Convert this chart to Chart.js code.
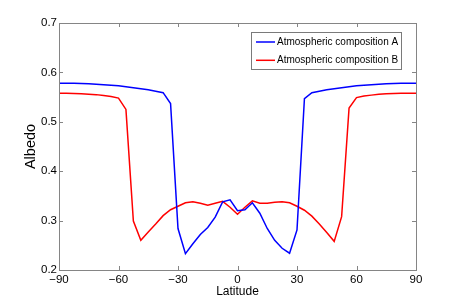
<!DOCTYPE html>
<html lang="en">
  <head>
    <meta charset="UTF-8" />
    <title>Albedo vs Latitude</title>
    <style>
      body {
        margin: 0;
        padding: 0;
        background: #ffffff;
      }
      #albedoChart {
        display: block;
      }
    </style>
    <script src="https://cdn.jsdelivr.net/npm/chart.js"></script>
  </head>
  <body>
    <canvas id="albedoChart" width="460" height="304"></canvas>
    <script>
      // latitude grid (3.75 deg steps)
      const latitude = [
        -90, -86.25, -82.5, -78.75, -75, -71.25, -67.5, -63.75, -60, -56.25,
        -52.5, -48.75, -45, -41.25, -37.5, -33.75, -30, -26.25, -22.5, -18.75,
        -15, -11.25, -7.5, -3.75, 0, 3.75, 7.5, 11.25, 15, 18.75, 22.5, 26.25,
        30, 33.75, 37.5, 41.25, 45, 48.75, 52.5, 56.25, 60, 63.75, 67.5, 71.25,
        75, 78.75, 82.5, 86.25, 90,
      ];
      const albedoA = [
        0.578, 0.578, 0.578, 0.5775, 0.577, 0.576, 0.575, 0.574, 0.573, 0.571,
        0.569, 0.567, 0.565, 0.562, 0.559, 0.537, 0.284, 0.233, 0.253, 0.272,
        0.286, 0.307, 0.338, 0.342, 0.32, 0.322, 0.336, 0.315, 0.284, 0.26,
        0.244, 0.234, 0.281, 0.547, 0.559, 0.562, 0.565, 0.567, 0.569, 0.571,
        0.573, 0.574, 0.575, 0.576, 0.577, 0.5775, 0.578, 0.578, 0.578,
      ];
      const albedoB = [
        0.558, 0.558, 0.5575, 0.557, 0.556, 0.555, 0.553, 0.551, 0.548, 0.525,
        0.299, 0.26, 0.277, 0.293, 0.31, 0.322, 0.329, 0.336, 0.338, 0.335,
        0.331, 0.335, 0.339, 0.327, 0.313, 0.327, 0.34, 0.335, 0.335, 0.337,
        0.338, 0.336, 0.329, 0.321, 0.309, 0.293, 0.276, 0.258, 0.308, 0.528,
        0.549, 0.552, 0.554, 0.556, 0.557, 0.5575, 0.558, 0.558, 0.558,
      ];
      const xTicks = [-90, -60, -30, 0, 30, 60, 90];
      const yTicks = [0.2, 0.3, 0.4, 0.5, 0.6, 0.7];
      const seriesNames = ["Atmospheric composition A", "Atmospheric composition B"];

      const FONT = "'Liberation Sans', Arial, Helvetica, sans-serif";
      const AXIS_COLOR = "#858585";

      // box + inward tick marks on all four sides, MATLAB style
      const boxPlugin = {
        id: "box",
        afterDraw(chart) {
          const { ctx, chartArea: a, scales } = chart;
          ctx.save();
          ctx.strokeStyle = AXIS_COLOR;
          ctx.lineWidth = 1;
          ctx.strokeRect(a.left + 0.5, a.top + 0.5, a.right - a.left, a.bottom - a.top);
          ctx.beginPath();
          const len = 4;
          scales.x.ticks.forEach((t) => {
            const px = Math.round(scales.x.getPixelForValue(t.value)) + 0.5;
            ctx.moveTo(px, a.bottom);
            ctx.lineTo(px, a.bottom - len);
            ctx.moveTo(px, a.top);
            ctx.lineTo(px, a.top + len);
          });
          scales.y.ticks.forEach((t) => {
            const py = Math.round(scales.y.getPixelForValue(t.value)) + 0.5;
            ctx.moveTo(a.left, py);
            ctx.lineTo(a.left + len, py);
            ctx.moveTo(a.right, py);
            ctx.lineTo(a.right - len, py);
          });
          ctx.stroke();

          // legend box inside the plot
          const lx = 251, ly = 32, lw = 150, lh = 37;
          ctx.fillStyle = "#ffffff";
          ctx.fillRect(lx, ly, lw, lh);
          ctx.strokeStyle = "#7a7a7a";
          ctx.strokeRect(lx + 0.5, ly + 0.5, lw, lh);
          ctx.font = "10px " + FONT;
          ctx.textBaseline = "middle";
          chart.data.datasets.forEach((ds, i) => {
            const y = ly + 10 + i * 18.3;
            ctx.strokeStyle = ds.borderColor;
            ctx.lineWidth = 1.5;
            ctx.beginPath();
            ctx.moveTo(256, y);
            ctx.lineTo(275, y);
            ctx.stroke();
            ctx.fillStyle = "#000000";
            ctx.fillText(ds.label, 277, y);
          });
          ctx.restore();
        },
      };

      const ctx = document.getElementById("albedoChart").getContext("2d");
      const config = {
        type: "line",
        data: {
          datasets: [
            {
              label: seriesNames[0],
              data: latitude.map((x, i) => ({ x: x, y: albedoA[i] })),
              borderColor: "#0000ff",
              borderWidth: 1.5,
              pointRadius: 0,
              tension: 0,
            },
            {
              label: seriesNames[1],
              data: latitude.map((x, i) => ({ x: x, y: albedoB[i] })),
              borderColor: "#ff0000",
              borderWidth: 1.5,
              pointRadius: 0,
              tension: 0,
            },
          ],
        },
        options: {
          responsive: false,
          animation: false,
          layout: { padding: { top: 23, right: 44, left: 0, bottom: 0 } },
          plugins: {
            legend: { display: false },
            tooltip: { enabled: false },
          },
          scales: {
            x: {
              type: "linear",
              min: -90,
              max: 90,
              afterBuildTicks: (s) => {
                s.ticks = xTicks.map((v) => ({ value: v }));
              },
              afterFit: (s) => {
                s.height = 34;
              },
              grid: { display: false, drawTicks: false },
              border: { display: false },
              ticks: {
                color: "#000000",
                padding: 3,
                maxRotation: 0,
                font: { family: FONT, size: 11.5 },
                callback: (v) => (v < 0 ? "\u2212" + Math.abs(v) : String(v)),
              },
              title: {
                display: true,
                text: "Latitude",
                color: "#000000",
                padding: { top: 0, bottom: 5 },
                font: { family: FONT, size: 12 },
              },
            },
            y: {
              min: 0.2,
              max: 0.7,
              afterBuildTicks: (s) => {
                s.ticks = yTicks.map((v) => ({ value: v }));
              },
              afterFit: (s) => {
                s.width = 59;
              },
              grid: { display: false, drawTicks: false },
              border: { display: false },
              ticks: {
                color: "#000000",
                padding: 2,
                font: { family: FONT, size: 11.5 },
                callback: (v) => v.toFixed(1),
              },
              title: {
                display: true,
                text: "Albedo",
                color: "#000000",
                padding: { top: 22, bottom: 0 },
                font: { family: FONT, size: 14.5 },
              },
            },
          },
        },
        plugins: [boxPlugin],
      };
      const albedoChart = new Chart(ctx, config);
    </script>
  </body>
</html>
